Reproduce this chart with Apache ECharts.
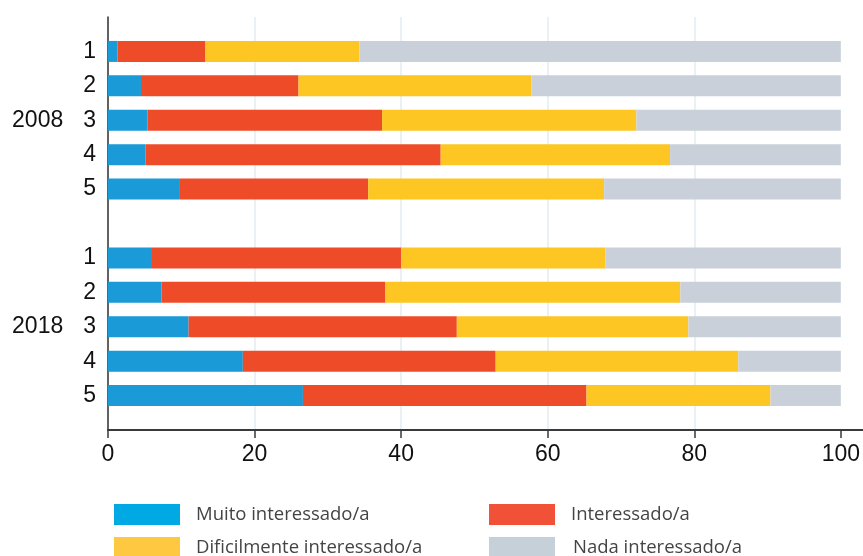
<!DOCTYPE html>
<html>
<head>
<meta charset="utf-8">
<script src="https://cdn.jsdelivr.net/npm/echarts@6/dist/echarts.min.js"></script>
<style>
html,body{margin:0;padding:0;background:#fff;}
#chart{width:863px;height:556px;}
</style>
</head>
<body>
<div id="chart"></div>
<script>
// Categories (top to bottom); blank entries are spacing rows
const categories = ["", "1", "2", "3", "4", "5", "", "1", "2", "3", "4", "5", ""];
const groupLabels = { 3: "2008", 9: "2018" };
const seriesNames = ["Muito interessado/a", "Interessado/a", "Dificilmente interessado/a", "Nada interessado/a"];
const xTicks = [0, 20, 40, 60, 80, 100];

// Percentages per category row (null for spacing rows)
const muito       = [null, 1.3, 4.5, 5.4, 5.1, 9.7, null, 6.0, 7.3, 11.0, 18.4, 26.6, null];
const interessado = [null, 12.0, 21.5, 32.0, 40.3, 25.8, null, 34.0, 30.5, 36.6, 34.5, 38.7, null];
const dificil     = [null, 21.0, 31.8, 34.7, 31.3, 32.2, null, 27.9, 40.3, 31.6, 33.1, 25.1, null];
const nada        = [null, 65.7, 42.2, 27.9, 23.3, 32.3, null, 32.1, 21.9, 20.8, 14.0, 9.6, null];

const barColors = ["#1a9ad6", "#ee4b29", "#fdc623", "#c9d0d9"];
const legendColors = ["#00a8e4", "#f05137", "#fec941", "#c6d0d8"];
const values = [muito, interessado, dificil, nada];

const chart = echarts.init(document.getElementById('chart'), null, { renderer: 'canvas' });

const series = seriesNames.map((name, i) => ({
  name: name,
  type: 'bar',
  stack: 'total',
  barWidth: 21,
  data: values[i],
  itemStyle: { color: barColors[i] },
  emphasis: { disabled: true },
  silent: true
}));

const axisFont = '"Liberation Sans", Arial, sans-serif';
const legendPos = [[114, 504], [489, 504], [114, 537], [489, 537]];
const legends = seriesNames.map((name, i) => ({
  orient: 'horizontal',
  left: legendPos[i][0],
  top: legendPos[i][1],
  itemWidth: 66,
  itemHeight: 21,
  icon: 'rect',
  selectedMode: false,
  padding: 0,
  textStyle: {
    fontFamily: '"Open Sans", sans-serif',
    fontSize: 18.5,
    color: '#444444',
    padding: [0, 0, 0, i === 3 ? 13 : 11]
  },
  data: [{ name: name, itemStyle: { color: legendColors[i] } }]
}));

const option = {
  animation: false,
  backgroundColor: '#ffffff',
  grid: { left: 108, right: 0, top: 17, bottom: 126, containLabel: false },
  xAxis: {
    type: 'value',
    min: 0,
    max: 103,
    interval: 20,
    axisLine: { show: true, lineStyle: { color: '#3a3a3a', width: 2 } },
    axisTick: { show: true, length: 8, lineStyle: { color: '#3a3a3a', width: 1.5 }, customValues: xTicks },
    axisLabel: {
      customValues: xTicks,
      margin: 13,
      fontFamily: axisFont,
      fontSize: 23,
      color: '#111111'
    },
    splitLine: { show: true, showMaxLine: false, lineStyle: { color: '#e2edf1', width: 1.5 } }
  },
  yAxis: {
    type: 'category',
    data: categories,
    inverse: true,
    boundaryGap: false,
    axisLine: { show: true, lineStyle: { color: '#333333', width: 1.5 } },
    axisTick: { show: false },
    splitLine: { show: false },
    axisLabel: {
      interval: 0,
      margin: 12,
      fontFamily: axisFont,
      fontSize: 23,
      color: '#111111',
      formatter: function (value, index) {
        if (groupLabels[index]) {
          return '{yr|' + groupLabels[index] + '}{n|' + value + '}';
        }
        return '{n|' + value + '}';
      },
      rich: {
        yr: { fontFamily: axisFont, fontSize: 23, color: '#111111', padding: [0, 20, 0, 0] },
        n: { fontFamily: axisFont, fontSize: 23, color: '#111111' }
      }
    }
  },
  legend: legends,
  series: series
};

chart.setOption(option);
</script>
</body>
</html>
